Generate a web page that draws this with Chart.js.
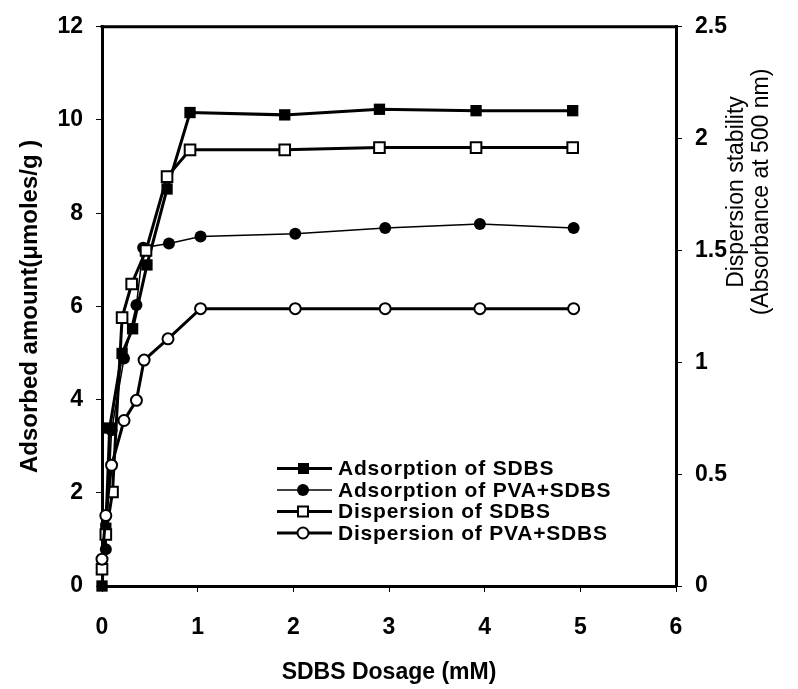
<!DOCTYPE html>
<html>
<head>
<meta charset="utf-8">
<script src="https://cdn.jsdelivr.net/npm/chart.js@4.4.1/dist/chart.umd.min.js"></script>
<style>
  html, body { margin: 0; padding: 0; background: #fff; }
  canvas { display: block; }
</style>
</head>
<body>
<canvas id="myChart" width="798" height="689"></canvas>
<script>
// SDBS dosage (mM) and readings for each series
var dosisAdsSDBS = [0, 0.04, 0.08, 0.21, 0.32, 0.47, 0.68, 0.92, 1.91, 2.90, 3.91, 4.92];
var adsSDBS      = [0, 1.24, 3.39, 4.99, 5.52, 6.89, 8.52, 10.16, 10.11, 10.23, 10.20, 10.20];

var dosisAdsPVA = [0.04, 0.10, 0.23, 0.36, 0.43, 0.70, 1.03, 2.02, 2.96, 3.95, 4.93];
var adsPVA      = [0.79, 3.34, 4.88, 6.03, 7.26, 7.35, 7.50, 7.56, 7.68, 7.77, 7.68];

var dosisDispSDBS = [0, 0.04, 0.11, 0.21, 0.31, 0.46, 0.68, 0.92, 1.91, 2.90, 3.91, 4.92];
var dispSDBS      = [0.075, 0.23, 0.42, 1.20, 1.35, 1.50, 1.83, 1.95, 1.95, 1.96, 1.96, 1.96];

var dosisDispPVA = [0, 0.04, 0.10, 0.23, 0.36, 0.44, 0.69, 1.03, 2.02, 2.96, 3.95, 4.93];
var dispPVA      = [0.12, 0.315, 0.54, 0.74, 0.83, 1.01, 1.105, 1.24, 1.24, 1.24, 1.24, 1.24];

var nombres = ['Adsorption of SDBS', 'Adsorption of PVA+SDBS', 'Dispersion of SDBS', 'Dispersion of PVA+SDBS'];

function puntos(xs, ys) {
    return xs.map(function (x, i) { return { x: x, y: ys[i] }; });
}

var fuenteTicks = { family: 'Liberation Sans', size: 23, weight: 'bold' };

// axis titles, top border and the legend box are drawn by hand
var extras = {
    id: 'extras',
    afterDraw: function (chart) {
        var ctx = chart.ctx;
        var a = chart.chartArea;
        ctx.save();
        ctx.strokeStyle = '#000';
        ctx.lineWidth = 3;
        ctx.beginPath();
        ctx.moveTo(a.left - 1.5, a.top);
        ctx.lineTo(a.right + 1.5, a.top);
        ctx.stroke();

        ctx.fillStyle = '#000';
        ctx.textAlign = 'center';
        ctx.textBaseline = 'middle';

        ctx.font = 'bold 23px "Liberation Sans"';
        ctx.fillText('SDBS Dosage (mM)', (a.left + a.right) / 2, 673);

        ctx.save();
        ctx.translate(30, (a.top + a.bottom) / 2);
        ctx.rotate(-Math.PI / 2);
        ctx.font = 'bold 24px "Liberation Sans"';
        ctx.fillText('Adsorbed amount(\u03bcmoles/g )', 0, 0);
        ctx.restore();

        ctx.save();
        ctx.translate(749, 192);
        ctx.rotate(-Math.PI / 2);
        ctx.font = '23px "Liberation Sans"';
        ctx.fillText('Dispersion stability', 0, -12);
        ctx.fillText('(Absorbance at 500 nm)', 0, 13);
        ctx.restore();

        // leyenda
        var filas = [468.5, 490, 511.5, 533];
        var grosor = [3, 1.5, 3, 3];
        ctx.font = 'bold 21px "Liberation Sans"';
        ctx.letterSpacing = '0.8px';
        ctx.textAlign = 'left';
        for (var i = 0; i < 4; i++) {
            var y = filas[i];
            ctx.lineWidth = grosor[i];
            ctx.beginPath();
            ctx.moveTo(277, y);
            ctx.lineTo(332, y);
            ctx.stroke();
            ctx.lineWidth = 2;
            if (i === 0) {
                ctx.fillRect(298, y - 5.5, 11, 11);
            } else if (i === 1) {
                ctx.beginPath(); ctx.arc(303, y, 6, 0, Math.PI * 2); ctx.fill();
            } else if (i === 2) {
                ctx.fillStyle = '#fff';
                ctx.fillRect(298, y - 5, 10, 10);
                ctx.strokeRect(298, y - 5, 10, 10);
                ctx.fillStyle = '#000';
            } else {
                ctx.beginPath(); ctx.arc(303, y, 5.5, 0, Math.PI * 2);
                ctx.fillStyle = '#fff'; ctx.fill(); ctx.stroke();
                ctx.fillStyle = '#000';
            }
            ctx.fillText(nombres[i], 338, y + 1);
        }
        ctx.restore();
    }
};

function sinCeros(v) { return String(Number(v)); }

var ctx = document.getElementById('myChart').getContext('2d');
var chart = new Chart(ctx, {
    type: 'scatter',
    data: {
        datasets: [{
            label: nombres[0],
            data: puntos(dosisAdsSDBS, adsSDBS),
            yAxisID: 'y',
            showLine: true,
            clip: false,
            borderColor: '#000',
            borderWidth: 3,
            pointStyle: 'rect',
            pointRadius: 8,
            pointBackgroundColor: '#000',
            pointBorderColor: '#000',
            pointBorderWidth: 0,
            order: 4
        }, {
            label: nombres[1],
            data: puntos(dosisAdsPVA, adsPVA),
            yAxisID: 'y',
            showLine: true,
            clip: false,
            borderColor: '#000',
            borderWidth: 1.5,
            pointStyle: 'circle',
            pointRadius: 6,
            pointBackgroundColor: '#000',
            pointBorderColor: '#000',
            pointBorderWidth: 0,
            order: 3
        }, {
            label: nombres[2],
            data: puntos(dosisDispSDBS, dispSDBS),
            yAxisID: 'y2',
            showLine: true,
            clip: false,
            borderColor: '#000',
            borderWidth: 3,
            pointStyle: 'rect',
            pointRadius: 7.5,
            pointBackgroundColor: '#fff',
            pointBorderColor: '#000',
            pointBorderWidth: 2,
            order: 2
        }, {
            label: nombres[3],
            data: puntos(dosisDispPVA, dispPVA),
            yAxisID: 'y2',
            showLine: true,
            clip: false,
            borderColor: '#000',
            borderWidth: 3,
            pointStyle: 'circle',
            pointRadius: 5.5,
            pointBackgroundColor: '#fff',
            pointBorderColor: '#000',
            pointBorderWidth: 2,
            order: 1
        }]
    },
    options: {
        responsive: false,
        animation: false,
        layout: { padding: { top: 22, left: 0, right: 0, bottom: 0 } },
        plugins: { legend: { display: false }, tooltip: { enabled: false } },
        scales: {
            x: {
                type: 'linear',
                min: 0, max: 6,
                ticks: { stepSize: 1, color: '#000', font: fuenteTicks, padding: 22, maxRotation: 0, callback: sinCeros },
                grid: { drawOnChartArea: false, drawTicks: true, tickLength: 6, color: '#000', lineWidth: 1 },
                border: { color: '#000', width: 3 },
                afterFit: function (s) { s.height = 103; }
            },
            y: {
                position: 'left',
                min: 0, max: 12,
                ticks: { stepSize: 2, color: '#000', font: fuenteTicks, padding: 13, callback: sinCeros },
                grid: { drawOnChartArea: false, drawTicks: true, tickLength: 6, color: '#000', lineWidth: 1 },
                border: { color: '#000', width: 3 },
                afterFit: function (s) { s.width = 102; }
            },
            y2: {
                position: 'right',
                min: 0, max: 2.5,
                ticks: { stepSize: 0.5, color: '#000', font: fuenteTicks, padding: 13, callback: sinCeros },
                grid: { drawOnChartArea: false, drawTicks: true, tickLength: 6, color: '#000', lineWidth: 1 },
                border: { color: '#000', width: 3 },
                afterFit: function (s) { s.width = 122; }
            }
        }
    },
    plugins: [extras]
});
</script>
</body>
</html>
